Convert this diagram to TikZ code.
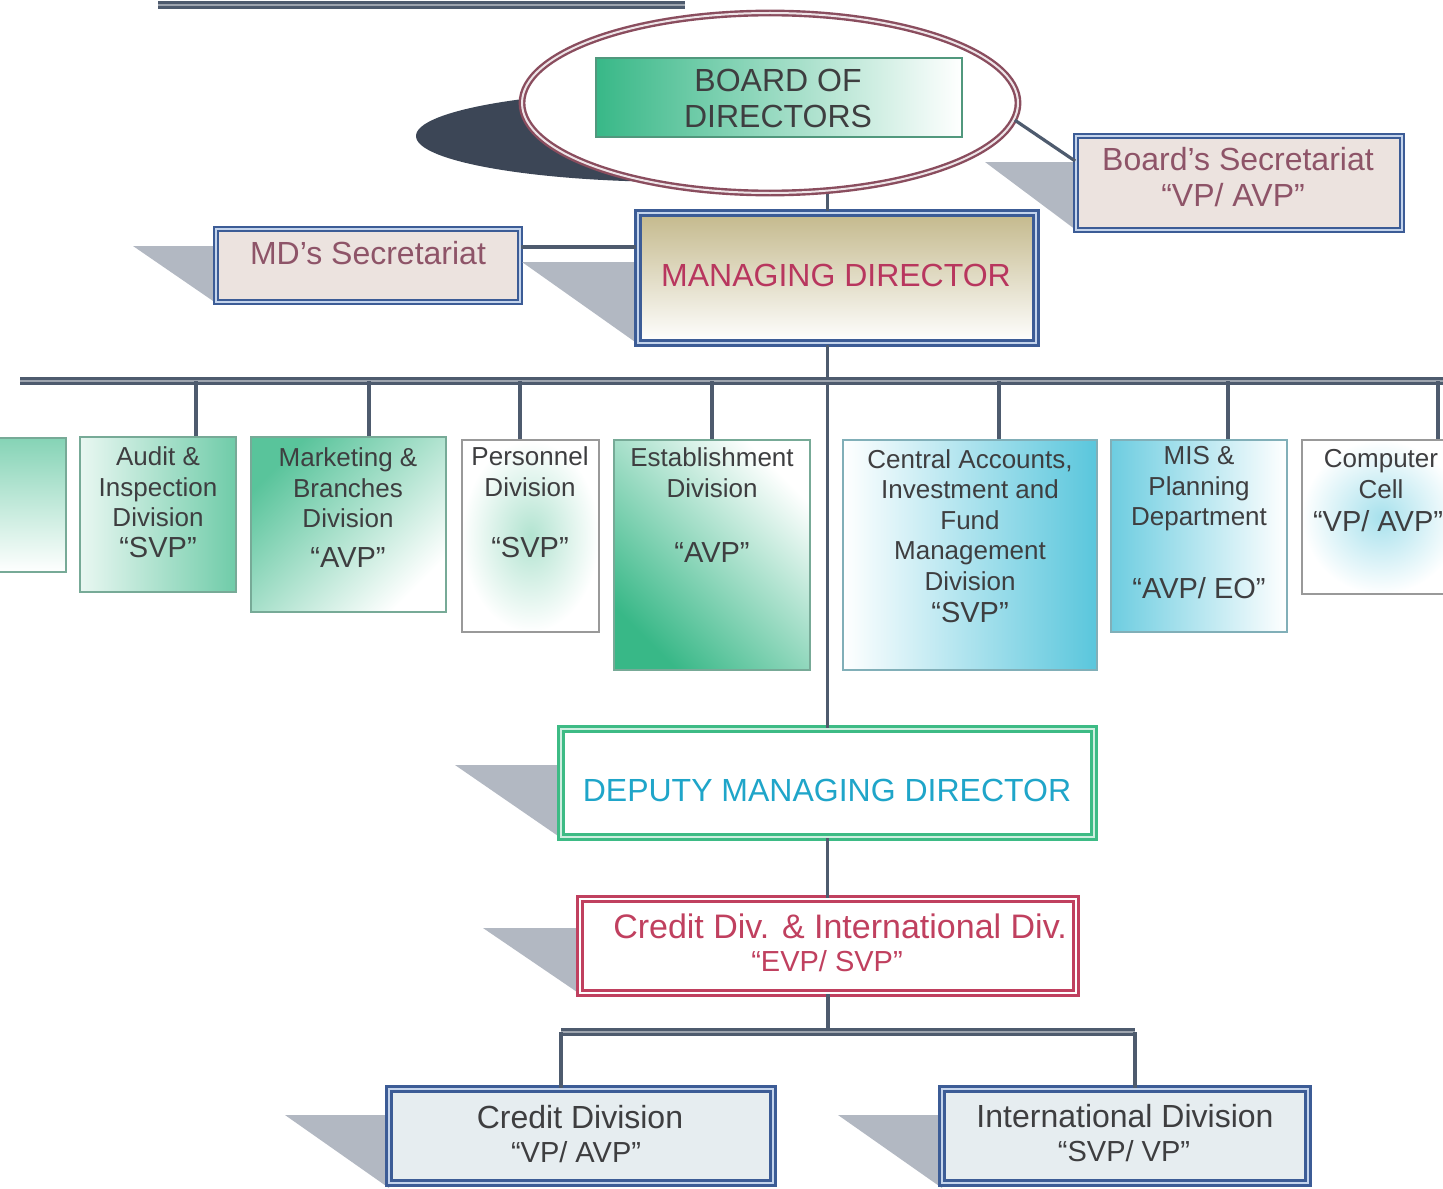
\documentclass[tikz,border=0pt]{standalone}
\usepackage{fontspec}
\setmainfont{Liberation Sans}
\usetikzlibrary{fit,shapes.geometric}

\definecolor{orgblue}{RGB}{60,92,150}
\definecolor{paleblue}{RGB}{196,212,236}
\definecolor{secfill}{RGB}{236,227,223}
\definecolor{mauve}{RGB}{142,84,104}
\definecolor{crimson}{RGB}{184,54,94}
\definecolor{ovalred}{RGB}{138,77,94}
\definecolor{orggreen}{RGB}{34,176,122}
\definecolor{orgcyan}{RGB}{60,188,214}
\definecolor{dmdgreen}{RGB}{61,187,133}
\definecolor{dmdtext}{RGB}{31,165,201}
\definecolor{cidred}{RGB}{192,64,95}
\definecolor{shadowgrey}{RGB}{178,184,194}
\definecolor{darkshade}{RGB}{60,70,86}
\definecolor{linegrey}{RGB}{78,91,110}
\definecolor{textgrey}{RGB}{62,62,64}
\definecolor{lowfill}{RGB}{230,237,240}
\definecolor{mdtan}{RGB}{196,185,140}

\tikzset{
  link/.style={draw=linegrey,line width=1.6pt},
  bus/.style={draw=linegrey,line width=1.9pt,double=linegrey!55,double distance=0.6pt},
  secbox/.style={draw=orgblue,line width=0.9pt,double=paleblue,double distance=1pt,fill=secfill,inner sep=0pt},
  lowbox/.style={draw=orgblue,line width=1.4pt,double=paleblue,double distance=1.2pt,fill=lowfill,inner sep=0pt},
  divbox/.style={draw=#1!45!gray!80,line width=0.6pt,inner sep=0pt},
  divname/.style={text=textgrey,align=center,inner sep=0pt,font=\fontsize{13}{15.3}\selectfont},
  grade/.style={text=textgrey,inner sep=0pt,font=\fontsize{14.5}{17}\selectfont},
  bigtext/.style={inner sep=0pt,align=center,font=\fontsize{16}{18}\selectfont},
}

\begin{document}
\begin{tikzpicture}[x=0.5pt,y=-0.5pt]
        \useasboundingbox (0,0) rectangle (1443,1188) ;
        \fill[white] (0,0) rectangle (1443,1188) ;
        \clip (0,0) rectangle (1443,1188) ;
        % underline of the (cut off) heading
        \coordinate (ulL) at (158,5) ; \coordinate (ulR) at (685,5) ;
        \draw[bus] (ulL) -- (ulR) ;

        % board of directors
        \fill[darkshade] (680,136) ellipse [x radius=132pt, y radius=23pt] ;
        \node[ellipse,draw=ovalred,line width=1.2pt,double=ovalred!15,double distance=1pt,fill=white,
          minimum width=248pt,minimum height=90pt,inner sep=0pt] (board) at (770,103) {} ;
        \node[fit={(596,58) (962,137)},inner sep=0pt,draw=orggreen!50!gray,line width=0.6pt,
          left color=orggreen!90,middle color=orggreen!12,right color=white] (boardbox) {} ;
        \node[bigtext,text=textgrey] (boardtxt) at (778,98) {BOARD OF\\DIRECTORS} ;

        % secretariats
        \fill[shadowgrey] (985,162) -- (1076,162) -- (1076,230) -- cycle ;
        \node[secbox,fit={(1076,136) (1402,230)}] (bsec) {} ;
        \node[bigtext,text=mauve] (bsecname) at (1238,159) {Board’s Secretariat} ;
        \node[grade,text=mauve,font=\fontsize{16}{18}\selectfont] (bsecgrade) at (1233,195) {“VP/ AVP”} ;

        \fill[shadowgrey] (133,246) -- (216,246) -- (216,303) -- cycle ;
        \node[secbox,fit={(216,229) (520,302)}] (mdsec) {} ;
        \node[bigtext,text=mauve] (mdsectxt) at (368,253) {MD’s Secretariat} ;

        % managing director
        \fill[shadowgrey] (522,262) -- (638,262) -- (638,344) -- cycle ;
        \node[fit={(638,213) (1036,343)},inner sep=0pt,draw=orgblue,line width=1.7pt,double=paleblue,
          double distance=0.8pt,top color=mdtan,middle color=white,bottom color=white] (md) {} ;
        \node[bigtext,text=crimson] (mdtxt) at (836,275) {MANAGING DIRECTOR} ;

        % divisions under the MD
        \node[divbox=orggreen,fit={(-10,438) (66,572)},top color=orggreen!55,bottom color=white] (prev) {} ;
        \node[divbox=orggreen,fit={(80,437) (236,592)},left color=orggreen!10,right color=orggreen!65] (audit) {} ;
        \node[divbox=orggreen,fit={(251,437) (446,612)},top color=orggreen!75,bottom color=white,shading angle=45] (mkt) {} ;
        \node[divbox=gray,fit={(462,440) (599,632)},inner color=orggreen!35,outer color=white] (pers) {} ;
        \node[divbox=orggreen,fit={(614,440) (810,670)},top color=white,bottom color=orggreen!90,shading angle=-45] (estb) {} ;
        \node[divbox=orgcyan,fit={(843,440) (1097,670)},left color=white,right color=orgcyan!85] (cacc) {} ;
        \node[divbox=orgcyan,fit={(1111,440) (1287,632)},left color=orgcyan!75,right color=white] (mis) {} ;
        \node[divbox=gray,fit={(1302,440) (1460,594)},inner color=orgcyan!45,outer color=white] (comp) {} ;

        \node[divname] (auditname) at (158,487) {Audit \&\\Inspection\\Division} ;
        \node[grade] (auditgrade) at (158,548) {“SVP”} ;
        \node[divname] (mktname) at (348,488) {Marketing \&\\Branches\\Division} ;
        \node[grade] (mktgrade) at (348,558) {“AVP”} ;
        \node[divname] (persname) at (530,472) {Personnel\\Division} ;
        \node[grade] (persgrade) at (530,548) {“SVP”} ;
        \node[divname] (estbname) at (712,473) {Establishment\\Division} ;
        \node[grade] (estbgrade) at (712,553) {“AVP”} ;
        \node[divname] (caccname) at (970,520) {Central Accounts,\\Investment and\\Fund\\Management\\Division} ;
        \node[grade] (caccgrade) at (970,613) {“SVP”} ;
        \node[divname] (misname) at (1199,489) {MIS \&\\Planning\\Department} ;
        \node[grade] (misgrade) at (1199,588) {“AVP/ EO”} ;
        \node[divname] (compname) at (1381,474) {Computer\\Cell} ;
        \node[grade] (compgrade) at (1378,521) {“VP/ AVP”} ;

        % deputy managing director
        \fill[shadowgrey] (455,765) -- (561,765) -- (561,838) -- cycle ;
        \node[fit={(561,729) (1094,837)},inner sep=0pt,draw=dmdgreen,line width=1.3pt,double=dmdgreen!25,
          double distance=1.4pt,fill=white] (dmd) {} ;
        \node[bigtext,text=dmdtext] (dmdtxt) at (827,790) {DEPUTY MANAGING DIRECTOR} ;

        \fill[shadowgrey] (483,928) -- (580,928) -- (580,994) -- cycle ;
        \node[fit={(580,899) (1076,993)},inner sep=0pt,draw=cidred,line width=1.2pt,double=white,
          double distance=1.2pt,fill=white] (cid) {} ;
        \node[bigtext,text=cidred,font=\fontsize{17}{20}\selectfont] (cidname) at (840,926) {Credit Div. \& International Div.} ;
        \node[grade,text=cidred] (cidgrade) at (827,961) {“EVP/ SVP”} ;

        \fill[shadowgrey] (285,1115) -- (389,1115) -- (389,1188) -- cycle ;
        \node[lowbox,fit={(389,1089) (773,1183)}] (credit) {} ;
        \node[bigtext,text=textgrey] (creditname) at (580,1117) {Credit Division} ;
        \node[grade] (creditgrade) at (576,1152) {“VP/ AVP”} ;

        \fill[shadowgrey] (838,1115) -- (942,1115) -- (942,1188) -- cycle ;
        \node[lowbox,fit={(942,1089) (1308,1183)}] (intl) {} ;
        \node[bigtext,text=textgrey] (intlname) at (1125,1116) {International Division} ;
        \node[grade] (intlgrade) at (1124,1151) {“SVP/ VP”} ;

        % connectors
        \draw[link] (board.south -| dmd.north) -- (md.north -| dmd.north) ;
        \draw[link] (board.-4) -- ([yshift=11pt]bsec.west) ;
        \coordinate (mdlink) at (0,247) ;
        \draw[link] (mdsec.east |- mdlink) -- (md.west |- mdlink) ;
        \draw[link] (dmd.north |- md.south) -- (dmd.north) ;
        \coordinate (busL) at (20,381) ; \coordinate (busR) at (1443,381) ;
        \draw[bus] (busL) -- (busR) ;
        \foreach \d/\s in {audit/19pt,mkt/10.25pt,pers/-5.25pt,estb/0pt,cacc/14.5pt,mis/14.5pt,comp/28.5pt}
          \draw[link] ([xshift=\s]\d.north |- busL) -- ([xshift=\s]\d.north) ;
        \draw[link] (dmd.south) -- (cid.north -| dmd.south) ;
        \coordinate (bus2L) at (561,1032) ; \coordinate (bus2R) at (1135,1032) ;
        \draw[link] (cid.south) -- (cid.south |- bus2L) ;
        \draw[bus] (bus2L) -- (bus2R) ;
        \draw[link] (bus2L) -- (bus2L |- credit.north) ;
        \draw[link] (bus2R) -- (bus2R |- intl.north) ;
\end{tikzpicture}
\end{document}
